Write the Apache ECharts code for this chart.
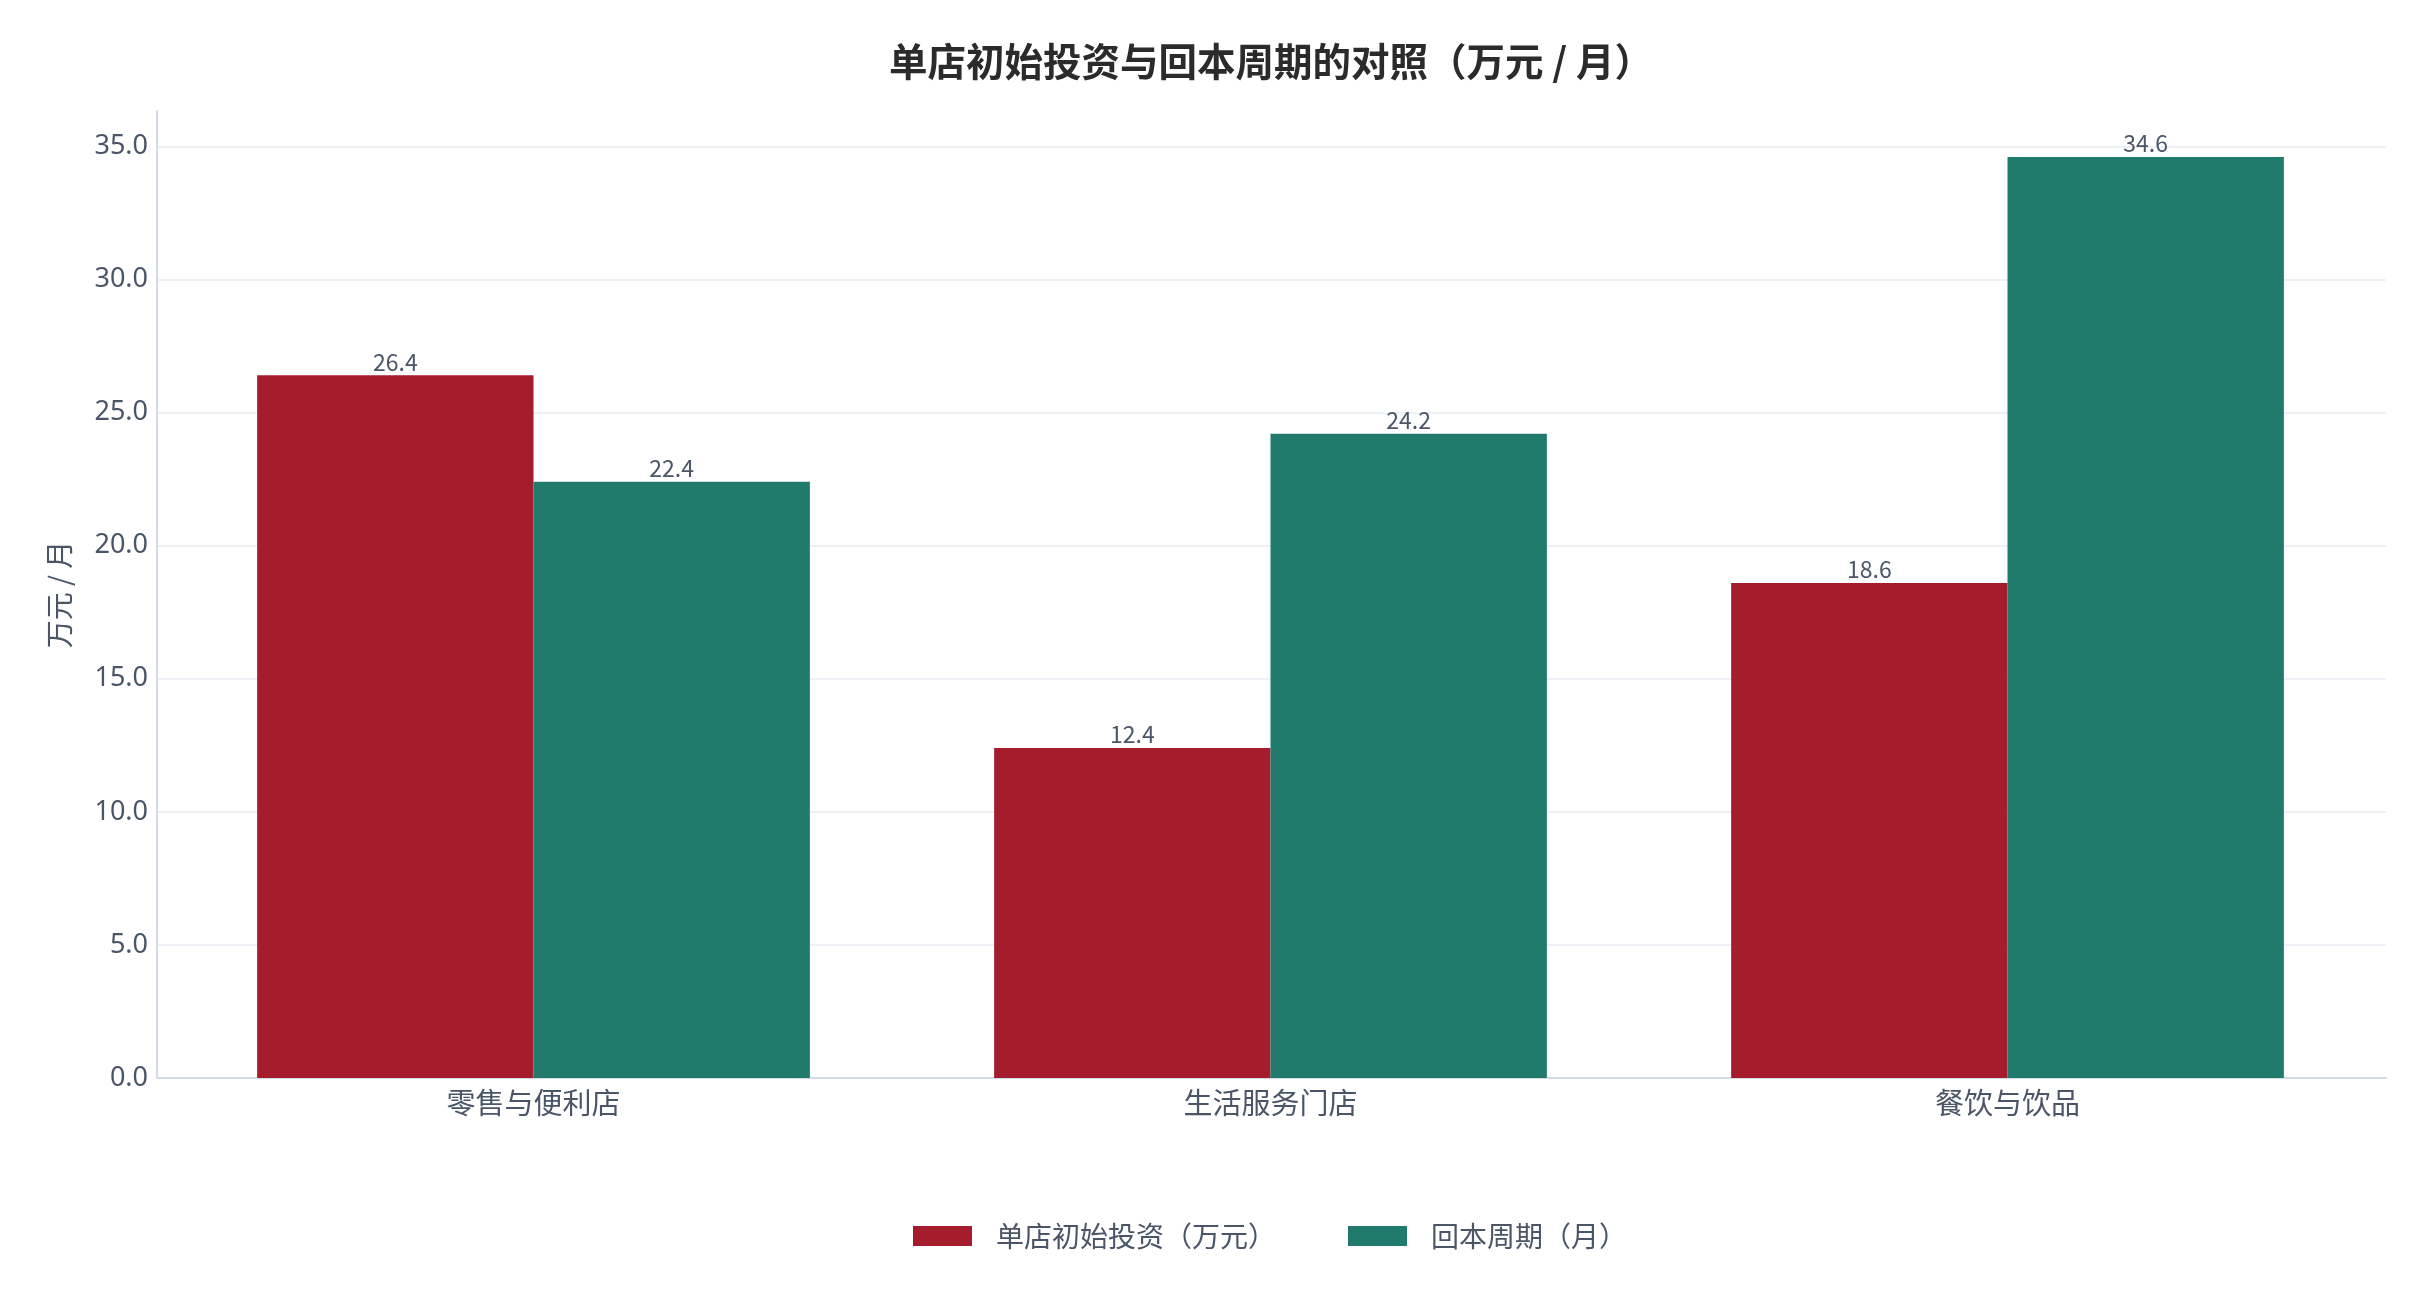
<!DOCTYPE html>
<html>
<head>
<meta charset="utf-8">
<script src="https://cdn.jsdelivr.net/npm/echarts@6/dist/echarts.min.js"></script>
<style>
  html, body { margin: 0; padding: 0; background: #fff; }
  #chart { width: 2428px; height: 1305px; }
</style>
</head>
<body>
<div id="chart"></div>
<script>
var categories = ['零售与便利店', '生活服务门店', '餐饮与饮品'];
var investData = [26.4, 12.4, 18.6];   // 单店初始投资（万元）
var paybackData = [22.4, 24.2, 34.6];  // 回本周期（月）
var seriesNames = ['单店初始投资（万元）', '回本周期（月）'];
var yMax = 36.33;

var cjk = '"Noto Sans CJK SC", "Noto Sans", sans-serif';
var labelColor = '#4a5568';
var lineColor = '#d5dbe5';

var chart = echarts.init(document.getElementById('chart'));

function barLabel() {
    return {
        show: true,
        position: 'top',
        distance: 2,
        color: labelColor,
        fontFamily: cjk,
        fontSize: 23,
        formatter: function (p) { return p.value.toFixed(1); }
    };
}

chart.setOption({
    backgroundColor: '#ffffff',
    animation: false,
    title: {
        text: '单店初始投资与回本周期的对照（万元 / 月）',
        left: 884,
        top: 37,
        textStyle: {
            color: '#2b2b2b',
            fontFamily: cjk,
            fontWeight: 'bold',
            fontSize: 38.5
        }
    },
    legend: {
        data: seriesNames,
        left: 908,
        top: 1217,
        itemWidth: 59,
        itemHeight: 20,
        itemGap: 72,
        icon: 'rect',
        textStyle: {
            color: labelColor,
            fontFamily: cjk,
            fontSize: 28,
            padding: [0, 0, 0, 19]
        }
    },
    // grid 0: axis frame and gridlines, grid 1: bars (inset a little like the reference)
    grid: [
        { left: 157, right: 42, top: 111, bottom: 227 },
        { left: 165, right: 52, top: 111, bottom: 227 }
    ],
    xAxis: [
        {
            type: 'category',
            gridIndex: 0,
            data: categories,
            axisLine: { lineStyle: { color: lineColor, width: 2 } },
            axisTick: { show: false },
            axisLabel: { show: false }
        },
        {
            type: 'category',
            gridIndex: 1,
            data: categories,
            axisLine: { show: false },
            axisTick: { show: false },
            axisLabel: {
                color: labelColor,
                fontFamily: cjk,
                fontSize: 29,
                margin: 10
            }
        }
    ],
    yAxis: [
        {
            type: 'value',
            gridIndex: 0,
            min: 0,
            max: yMax,
            interval: 5,
            name: '万元 / 月',
            nameLocation: 'middle',
            nameGap: 84,
            nameTextStyle: {
                color: labelColor,
                fontFamily: cjk,
                fontSize: 28
            },
            axisLine: { show: true, lineStyle: { color: lineColor, width: 2 } },
            axisTick: { show: false },
            axisLabel: {
                color: labelColor,
                fontFamily: '"Noto Sans", sans-serif',
                fontSize: 27,
                margin: 9,
                padding: [5, 0, 0, 0],
                showMaxLabel: false,
                formatter: function (v) { return v.toFixed(1); }
            },
            splitLine: {
                showMaxLine: false,
                lineStyle: { color: '#edf0f4', width: 2 }
            }
        },
        {
            type: 'value',
            gridIndex: 1,
            min: 0,
            max: yMax,
            interval: 5,
            show: false,
            splitLine: { show: false }
        }
    ],
    series: [
        {
            name: seriesNames[0],
            type: 'bar',
            xAxisIndex: 1,
            yAxisIndex: 1,
            data: investData,
            barGap: '0%',
            barCategoryGap: '25%',
            itemStyle: { color: '#a51c2d' },
            label: barLabel()
        },
        {
            name: seriesNames[1],
            type: 'bar',
            xAxisIndex: 1,
            yAxisIndex: 1,
            data: paybackData,
            itemStyle: { color: '#207b6d' },
            label: barLabel()
        }
    ]
});
</script>
</body>
</html>
